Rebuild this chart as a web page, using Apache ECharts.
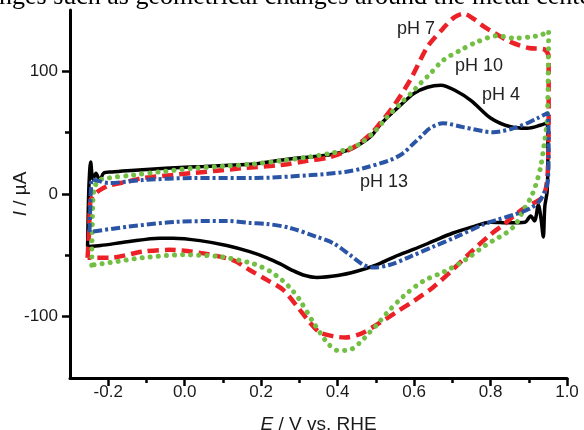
<!DOCTYPE html>
<html>
<head>
<meta charset="utf-8">
<script src="https://cdn.jsdelivr.net/npm/echarts@6/dist/echarts.min.js"></script>
<style>
html, body { margin: 0; padding: 0; background: #fff; }
#cv { width: 584px; height: 430px; }
</style>
</head>
<body>
<div id="cv"></div>
<script>
// E / V vs. RHE, I / uA  -- each loop starts at the left vertex, anodic sweep first
var ph4 = [
  [-0.254,-43],[-0.252,-10],[-0.25,10],[-0.246,26],[-0.24,12],[-0.232,17],[-0.222,11],[-0.212,17],
  [-0.19,18],[-0.15,19],[-0.05,21],[0.05,22.5],[0.18,24.5],[0.25,27.5],[0.32,30],[0.38,32],
  [0.43,36],[0.46,41],[0.49,48],[0.51,56],[0.535,64],[0.556,70],[0.6,82],[0.635,87],[0.67,88.6],
  [0.71,84],[0.75,76],[0.8,62],[0.85,55],[0.896,53.6],[0.93,56],[0.948,58],[0.95,30],[0.948,2],
  [0.942,-10],[0.938,-35],[0.932,-20],[0.925,-9],[0.915,-22],[0.905,-18],[0.89,-23],[0.85,-23.5],
  [0.8,-23],[0.75,-27],[0.7,-32],[0.65,-38.5],[0.6,-45],[0.55,-51],[0.5,-58],[0.45,-63],[0.4,-66.5],
  [0.346,-68],[0.31,-66],[0.28,-62],[0.25,-57],[0.215,-52],[0.17,-47],[0.11,-42],[0.04,-38],
  [-0.03,-36],[-0.066,-36],[-0.15,-39],[-0.22,-42],[-0.254,-43]
];
var ph7 = [
  [-0.254,-52],[-0.25,-30],[-0.246,-5],[-0.235,0],[-0.223,3],[-0.197,7],[-0.15,10],[-0.11,13],
  [0.02,17],[0.15,21],[0.25,23.6],[0.32,27],[0.38,30],[0.43,36],[0.46,42],[0.49,50],[0.511,57.7],
  [0.545,71],[0.59,93],[0.635,120],[0.676,135],[0.705,144],[0.729,147],[0.755,143],[0.78,137],
  [0.806,132],[0.852,124],[0.9,119],[0.94,118],[0.952,112],[0.952,60],[0.95,20],[0.945,5],
  [0.935,-3],[0.915,-7],[0.886,-12],[0.86,-18],[0.838,-24],[0.8,-33],[0.75,-47],[0.7,-62],
  [0.65,-76],[0.6,-87],[0.55,-97],[0.5,-107],[0.46,-114],[0.42,-117],[0.39,-116],[0.354,-113],
  [0.328,-105],[0.3,-94],[0.257,-78],[0.215,-70],[0.17,-62],[0.126,-54],[0.04,-48],[-0.04,-45.5],
  [-0.11,-47],[-0.197,-52],[-0.254,-52]
];
var ph10 = [
  [-0.243,-58],[-0.242,-30],[-0.24,-5],[-0.236,5],[-0.225,11],[-0.2,13],[-0.136,15.4],[-0.066,18],
  [0.021,21],[0.11,22.8],[0.178,24.4],[0.25,27],[0.32,30],[0.38,33],[0.43,37],[0.459,41],[0.5,52],
  [0.529,62.6],[0.565,74],[0.598,84],[0.616,90],[0.642,98],[0.676,109],[0.72,117],[0.765,124],
  [0.818,129],[0.86,127],[0.904,128],[0.935,130],[0.952,133],[0.951,100],[0.948,60],[0.94,40],
  [0.931,22],[0.917,6],[0.905,-3],[0.885,-14],[0.865,-25],[0.84,-32],[0.812,-37],[0.786,-42],
  [0.734,-53.7],[0.681,-63],[0.624,-71],[0.571,-83.7],[0.529,-97],[0.503,-106.5],[0.48,-114],
  [0.459,-121],[0.432,-127],[0.401,-127.6],[0.375,-122],[0.354,-113],[0.335,-104],[0.3,-86],
  [0.28,-78],[0.254,-70],[0.223,-63],[0.197,-59],[0.17,-56],[0.09,-51],[-0.005,-49.6],
  [-0.11,-52],[-0.197,-56],[-0.243,-58]
];
var ph13 = [
  [-0.249,-31],[-0.247,-10],[-0.245,5],[-0.242,12],[-0.23,11],[-0.197,9],[-0.11,11.4],[0.02,13],
  [0.178,13],[0.33,15.4],[0.42,18],[0.467,21],[0.537,27.6],[0.57,33],[0.598,41],[0.622,48],
  [0.642,53.7],[0.676,57.7],[0.728,54.5],[0.807,50.4],[0.87,54.5],[0.923,61.8],[0.949,65.9],
  [0.952,40],[0.95,11],[0.93,-5],[0.904,-11.6],[0.86,-17],[0.818,-21],[0.78,-25],[0.71,-35],
  [0.65,-43],[0.59,-51],[0.537,-57.7],[0.493,-60],[0.467,-57.7],[0.432,-49.6],[0.388,-40],
  [0.346,-35],[0.275,-27.6],[0.215,-24.4],[0.17,-23.6],[0.11,-22],[-0.021,-22.7],[-0.152,-26.8],
  [-0.249,-31]
];
var xMajor = [-0.2, 0, 0.2, 0.4, 0.6, 0.8, 1.0];
var xMinor = [-0.1, 0.1, 0.3, 0.5, 0.7, 0.9];
var yMajor = [-100, 0, 100];
var yMinor = [-50, 50];

var labelFont = { fontFamily: 'Liberation Sans', fontSize: 17, color: '#1a1a1a' };

var myChart = echarts.init(document.getElementById('cv'));
option = {
  animation: false,
  backgroundColor: '#fff',
  grid: { left: 70, right: 17, top: 10, bottom: 52, outerBoundsMode: 'none', containLabel: false },
  xAxis: [
    {
      type: 'value', min: -0.3, max: 1.0, position: 'bottom',
      splitLine: { show: false },
      axisLine: { onZero: false, lineStyle: { color: '#000', width: 3 } },
      axisTick: { customValues: xMajor, length: 8, lineStyle: { color: '#000', width: 2.5 } },
      axisLabel: Object.assign({ customValues: xMajor, margin: 6, hideOverlap: false,
        formatter: function (v) { return v.toFixed(1); } }, labelFont),
      name: '{i|E} / V vs. RHE', nameLocation: 'middle', nameGap: 37, nameMoveOverlap: false,
      nameTextStyle: { fontFamily: 'Liberation Sans', fontSize: 19, color: '#1a1a1a',
        rich: { i: { fontStyle: 'italic', fontFamily: 'Liberation Sans', fontSize: 19, color: '#1a1a1a' } } }
    },
    {
      type: 'value', min: -0.3, max: 1.0, position: 'bottom',
      splitLine: { show: false },
      axisLine: { show: false, onZero: false },
      axisTick: { customValues: xMinor, length: 5, lineStyle: { color: '#000', width: 2.5 } },
      axisLabel: { show: false }
    }
  ],
  yAxis: [
    {
      type: 'value', min: -150, max: 150, position: 'left',
      splitLine: { show: false },
      axisLine: { onZero: false, lineStyle: { color: '#000', width: 3 } },
      axisTick: { customValues: yMajor, length: 8, lineStyle: { color: '#000', width: 2.5 } },
      axisLabel: Object.assign({ customValues: yMajor, margin: 12 }, labelFont),
      name: '{i|I} / µA', nameLocation: 'middle', nameGap: 40, nameMoveOverlap: false,
      nameTextStyle: { fontFamily: 'Liberation Sans', fontSize: 19, color: '#1a1a1a',
        rich: { i: { fontStyle: 'italic', fontFamily: 'Liberation Sans', fontSize: 19, color: '#1a1a1a' } } }
    },
    {
      type: 'value', min: -150, max: 150, position: 'left',
      splitLine: { show: false },
      axisLine: { show: false, onZero: false },
      axisTick: { customValues: yMinor, length: 5, lineStyle: { color: '#000', width: 2.5 } },
      axisLabel: { show: false }
    }
  ],
  series: [
    { name: 'pH 4', type: 'line', data: ph4, showSymbol: false, smooth: 0.3,
      lineStyle: { color: '#000', width: 3.5 } },
    { name: 'pH 7', type: 'line', data: ph7, showSymbol: false, smooth: 0.3,
      lineStyle: { color: '#ec2027', width: 4.5, type: [11, 6] } },
    { name: 'pH 10', type: 'line', data: ph10, showSymbol: false, smooth: 0.3,
      lineStyle: { color: '#72bf44', width: 5, type: [0.1, 8], cap: 'round' } },
    { name: 'pH 13', type: 'line', data: ph13, showSymbol: false, smooth: 0.3,
      lineStyle: { color: '#2a54a6', width: 4, type: [9, 3, 3, 3] } }
  ],
  graphic: [
    { type: 'text', x: -1, y: -3, style: { text: 'nges such as geometrical changes around the metal cente',
      font: '26px "Liberation Serif"', fill: '#000', verticalAlign: 'middle' } },
    { type: 'text', x: 397, y: 29, style: { text: 'pH 7', font: '18px "Liberation Sans"', fill: '#222', verticalAlign: 'middle' } },
    { type: 'text', x: 455, y: 66, style: { text: 'pH 10', font: '18px "Liberation Sans"', fill: '#222', verticalAlign: 'middle' } },
    { type: 'text', x: 482, y: 95, style: { text: 'pH 4', font: '18px "Liberation Sans"', fill: '#222', verticalAlign: 'middle' } },
    { type: 'text', x: 360, y: 182, style: { text: 'pH 13', font: '18px "Liberation Sans"', fill: '#222', verticalAlign: 'middle' } }
  ]
};
option && myChart.setOption(option);
</script>
</body>
</html>
